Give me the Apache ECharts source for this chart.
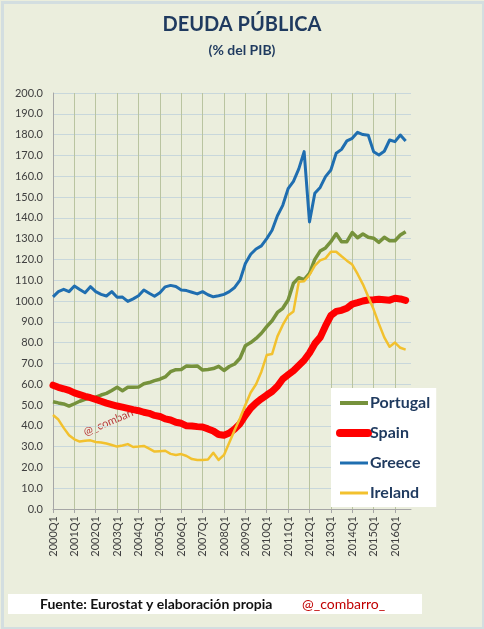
<!DOCTYPE html>
<html>
<head>
<meta charset="utf-8">
<script src="https://cdn.jsdelivr.net/npm/echarts@6/dist/echarts.min.js"></script>
<style>
html,body{margin:0;padding:0;background:#EBEEDD;}
#c{width:484px;height:629px;}
</style>
</head>
<body>
<div id="c"></div>
<script>
var categories = [
'2000Q1','2000Q2','2000Q3','2000Q4','2001Q1','2001Q2','2001Q3','2001Q4',
'2002Q1','2002Q2','2002Q3','2002Q4','2003Q1','2003Q2','2003Q3','2003Q4',
'2004Q1','2004Q2','2004Q3','2004Q4','2005Q1','2005Q2','2005Q3','2005Q4',
'2006Q1','2006Q2','2006Q3','2006Q4','2007Q1','2007Q2','2007Q3','2007Q4',
'2008Q1','2008Q2','2008Q3','2008Q4','2009Q1','2009Q2','2009Q3','2009Q4',
'2010Q1','2010Q2','2010Q3','2010Q4','2011Q1','2011Q2','2011Q3','2011Q4',
'2012Q1','2012Q2','2012Q3','2012Q4','2013Q1','2013Q2','2013Q3','2013Q4',
'2014Q1','2014Q2','2014Q3','2014Q4','2015Q1','2015Q2','2015Q3','2015Q4',
'2016Q1','2016Q2','2016Q3','2016Q4'];

var portugal = [51.6,51,50.5,49.5,50.6,51.8,52.7,53.3,53.8,54.8,
55.6,57,58.5,56.9,58.5,58.5,58.6,60.2,60.8,61.7,
62.4,63.5,66,67,67.1,68.8,68.6,68.8,66.8,67.1,
67.5,68.6,66.6,68.5,69.7,72.5,78.5,80,82,84.5,
87.7,90.5,94.5,96.5,100.5,108.5,111.2,110.3,113.3,120,
124,125.5,128.5,132.3,128.5,128.5,132.9,130.4,132.2,130.6,
130.2,128.2,130.6,129,129,131.7,133.3,null];

var spain = [59.5,58.5,57.8,57,55.8,55,54.2,53.5,52.7,51.8,
50.9,50.2,49.5,49,48.4,47.8,47.3,46.5,46,45,
44.5,43.3,42.8,41.7,41.2,40,39.9,39.6,39.4,38.5,
37.5,35.8,35.5,36.5,38.5,41,45,48.5,51,53,
54.8,56.5,59,62.5,64.5,66.5,69,71.5,75,79.5,
82.5,88,93,95,95.5,96.5,98.5,99.2,100,100.5,
100.6,100.8,100.6,100.4,101.3,101,100.3,null];

var greece = [102,104.5,105.6,104.5,107.2,105.5,104,106.9,104.5,103.2,
102.4,104.5,101.8,101.9,99.8,101,102.5,105.3,103.7,102.3,
104,106.8,107.5,107,105.3,105,104.2,103.4,104.5,103,
102,102.5,103.2,104.5,106.5,110,118,122.5,125,126.5,
130,134,141,146,154,157.5,163.5,171.8,138,151.8,
154.6,159.8,163,171,172.9,177,178.2,181.1,180,179.7,
171.8,170.2,172,177.4,176.6,179.8,176.9,null];

var ireland = [45.2,43,39,35.5,33.5,32.4,32.8,33,32.2,32,
31.5,30.8,30,30.5,31.2,29.8,30,30.3,29,27.6,
27.8,28,26.5,26,26.4,25.5,24,23.6,23.6,23.8,
27,23.6,26,32,38,43.6,50,56,60,66,
74,74.5,83,88.5,93,95,109.3,109.5,112.5,117,
119.5,120.5,123.7,123.7,121.5,119.4,117.5,113,108,102,
96,89,82.5,78,80,77.5,76.6,null];

var yTicks = {min:0, max:200, step:10};

var chart = echarts.init(document.getElementById('c'));
var FONT = 'Lato, "Open Sans", sans-serif';
var TXT = '#1F3A5F';
var HIDE = {color: 'rgba(0,0,0,0)', borderWidth: 0, borderColor: 'rgba(0,0,0,0)'};

chart.setOption({
  backgroundColor: '#EBEEDD',
  animation: false,
  textStyle: {fontFamily: FONT},
  title: [
    {text: 'DEUDA PÚBLICA', left: 'center', top: 10,
     textStyle: {fontSize: 20, fontWeight: 'bold', color: TXT, fontFamily: FONT}},
    {text: '(% del PIB)', left: 'center', top: 38,
     textStyle: {fontSize: 14, fontWeight: 'bold', color: TXT, fontFamily: FONT}}
  ],
  grid: {left: 53, top: 93, width: 358, height: 416, containLabel: false},
  xAxis: {
    type: 'category', data: categories, boundaryGap: false,
    axisLine: {lineStyle: {color: '#A6A6A6', width: 1}},
    axisTick: {show: true, interval: 3, length: 4, lineStyle: {color: '#A6A6A6'}},
    axisLabel: {interval: 3, rotate: 90, margin: 7, fontSize: 11, color: '#404040', fontFamily: FONT},
    splitLine: {show: true, interval: 3, lineStyle: {color: '#B9C4A0', width: 1}}
  },
  yAxis: {
    type: 'value', min: yTicks.min, max: yTicks.max, interval: yTicks.step,
    axisLine: {show: true, lineStyle: {color: '#A6A6A6'}},
    axisTick: {show: false},
    axisLabel: {formatter: function(v){return v.toFixed(1);}, fontSize: 11, color: '#404040', margin: 10, fontFamily: FONT},
    splitLine: {show: true, lineStyle: {color: '#C8D7DB', width: 1}}
  },
  legend: {
    orient: 'vertical', left: 331, top: 388,
    backgroundColor: '#FFFFFF', padding: [7, 6, 6, 5],
    itemWidth: 28, itemHeight: 14, itemGap: 14,
    textStyle: {fontSize: 16, fontWeight: 'bold', color: TXT, fontFamily: FONT, padding: [0, 0, 0, -3]},
    itemStyle: HIDE,
    data: [
      {name: 'Portugal', lineStyle: {width: 4}, itemStyle: HIDE},
      {name: 'Spain', lineStyle: {width: 8, cap: 'round'}, itemStyle: HIDE},
      {name: 'Greece', lineStyle: {width: 3}, itemStyle: HIDE},
      {name: 'Ireland', lineStyle: {width: 3}, itemStyle: HIDE}
    ]
  },
  graphic: [
    {type: 'rect', left: 0, top: 0, z: -10, silent: true,
     shape: {x: 1.5, y: 1.5, width: 481, height: 626},
     style: {fill: 'none', stroke: '#D3DEE0', lineWidth: 3}},
    {type: 'text', left: 82, top: 402, rotation: 23 * Math.PI / 180, z: 0,
     style: {text: '@_combarro_', fill: '#B83A3A', font: '11px ' + FONT}},
    {type: 'rect', left: 8, top: 594, z: 1, silent: true,
     shape: {width: 414, height: 20}, style: {fill: '#FFFFFF'}},
    {type: 'text', left: 40, top: 597, z: 2,
     style: {text: 'Fuente: Eurostat y elaboración propia', fill: '#111111', font: 'bold 14px ' + FONT}},
    {type: 'text', left: 302, top: 597, z: 2,
     style: {text: '@_combarro_', fill: '#C00000', font: '14px ' + FONT}}
  ],
  series: [
    {name: 'Portugal', type: 'line', data: portugal, symbol: 'none', z: 3,
     lineStyle: {color: '#76923C', width: 3.5, join: 'round'}, itemStyle: {color: '#76923C'}},
    {name: 'Spain', type: 'line', data: spain, symbol: 'none', z: 4,
     lineStyle: {color: '#FF0000', width: 7, cap: 'round', join: 'round'}, itemStyle: {color: '#FF0000'}},
    {name: 'Greece', type: 'line', data: greece, symbol: 'none', z: 5,
     lineStyle: {color: '#1F6EB0', width: 3, join: 'round'}, itemStyle: {color: '#1F6EB0'}},
    {name: 'Ireland', type: 'line', data: ireland, symbol: 'none', z: 6,
     lineStyle: {color: '#F2C12E', width: 2.5, join: 'round'}, itemStyle: {color: '#F2C12E'}}
  ]
});
</script>
</body>
</html>
